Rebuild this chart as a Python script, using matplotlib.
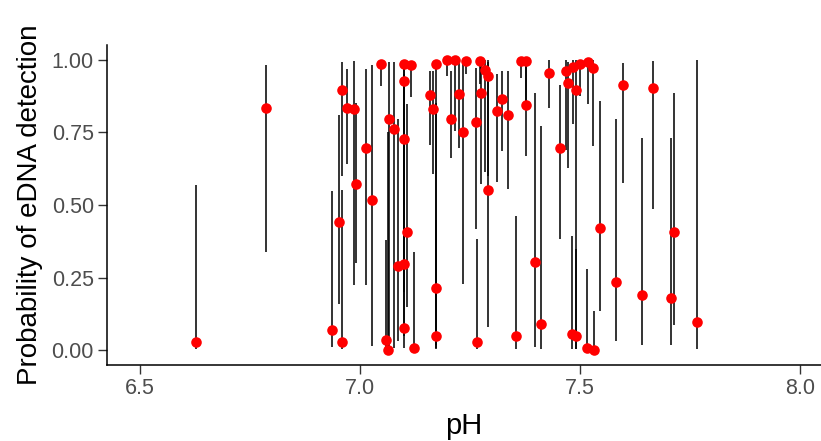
import matplotlib
matplotlib.use("Agg")
import matplotlib.pyplot as plt

# values
ph = [6.627, 6.786, 6.936, 6.953, 6.959, 6.959, 6.971, 6.986, 6.990, 7.013,
      7.027, 7.049, 7.059, 7.063, 7.066, 7.078, 7.087, 7.100, 7.100, 7.100,
      7.100, 7.100, 7.108, 7.117, 7.123, 7.159, 7.167, 7.172, 7.172, 7.172,
      7.197, 7.208, 7.216, 7.226, 7.235, 7.242, 7.263, 7.267, 7.273, 7.275,
      7.284, 7.292, 7.292, 7.312, 7.322, 7.336, 7.355, 7.365, 7.378, 7.377,
      7.399, 7.412, 7.430, 7.454, 7.468, 7.473, 7.482, 7.485, 7.491, 7.491,
      7.501, 7.516, 7.518, 7.530, 7.533, 7.546, 7.581, 7.598, 7.640, 7.667,
      7.708, 7.714, 7.767]
prob = [0.029, 0.834, 0.071, 0.442, 0.897, 0.029, 0.834, 0.829, 0.573, 0.697,
        0.518, 0.986, 0.037, 0.000, 0.794, 0.760, 0.291, 0.986, 0.926, 0.726,
        0.297, 0.078, 0.408, 0.980, 0.008, 0.877, 0.829, 0.986, 0.214, 0.051,
        1.000, 0.794, 1.000, 0.880, 0.752, 0.994, 0.787, 0.029, 0.994, 0.884,
        0.965, 0.945, 0.553, 0.822, 0.863, 0.808, 0.050, 0.994, 0.994, 0.843,
        0.304, 0.091, 0.953, 0.697, 0.959, 0.918, 0.058, 0.973, 0.897, 0.051,
        0.985, 0.010, 0.993, 0.972, 0.003, 0.421, 0.235, 0.911, 0.189, 0.903,
        0.181, 0.408, 0.097]
lower = [0.005, 0.337, 0.013, 0.160, 0.600, 0.005, 0.640, 0.225, 0.300, 0.225,
         0.017, 0.908, 0.000, 0.000, 0.010, 0.010, 0.033, 0.600, 0.500, 0.200,
         0.050, 0.010, 0.150, 0.870, 0.000, 0.708, 0.605, 0.010, 0.020, 0.005,
         0.943, 0.663, 0.754, 0.697, 0.229, 0.950, 0.417, 0.006, 0.917, 0.571,
         0.613, 0.600, 0.080, 0.578, 0.686, 0.554, 0.006, 0.937, 0.850, 0.669,
         0.013, 0.006, 0.834, 0.383, 0.690, 0.626, 0.006, 0.777, 0.006, 0.006,
         0.874, 0.000, 0.846, 0.703, 0.000, 0.137, 0.034, 0.577, 0.020, 0.486,
         0.020, 0.088, 0.006]
upper = [0.569, 0.983, 0.548, 0.810, 0.990, 0.550, 0.968, 0.994, 0.850, 0.968,
         0.982, 1.000, 0.380, 0.750, 0.990, 0.990, 0.794, 1.000, 0.990, 0.950,
         0.800, 0.600, 0.846, 0.995, 0.340, 0.960, 0.960, 1.000, 0.850, 0.450,
         1.000, 0.960, 1.000, 0.990, 1.000, 1.000, 0.970, 0.383, 1.000, 0.983,
         1.000, 0.990, 1.000, 0.949, 0.960, 0.960, 0.463, 1.000, 1.000, 0.994,
         0.886, 0.771, 0.997, 0.914, 1.000, 0.990, 0.394, 1.000, 1.000, 0.350,
         1.000, 0.280, 1.000, 1.000, 0.137, 0.857, 0.794, 0.989, 0.731, 0.994,
         0.731, 0.886, 1.000]

yticks = [0.0, 0.25, 0.5, 0.75, 1.0]
ylabels = ["0.00", "0.25", "0.50", "0.75", "1.00"]
xticks = [6.5, 7.0, 7.5, 8.0]
xlabels = ["6.5", "7.0", "7.5", "8.0"]

plt.rcParams['font.family'] = ['Liberation Sans', 'DejaVu Sans']

fig = plt.figure(figsize=(8.21, 4.41), dpi=100)
ax = fig.add_axes([0.1303, 0.1723, 0.8697, 0.7256])

ax.vlines(ph, lower, upper, colors="black", alpha=0.8, linewidth=1.4, zorder=2)
ax.scatter(ph, prob, c="red", s=58, linewidths=0, zorder=3)

ax.set_xlim(6.425, 8.048)
ax.set_ylim(-0.05, 1.05)
ax.set_xticks(xticks)
ax.set_xticklabels(xlabels)
ax.set_yticks(yticks)
ax.set_yticklabels(ylabels)

for side in ["top", "right"]:
    ax.spines[side].set_visible(False)
for side in ["left", "bottom"]:
    ax.spines[side].set_color("black")
    ax.spines[side].set_linewidth(1.1)

ax.tick_params(axis="both", length=6.5, width=1.0, color="#333333",
               labelcolor="#4D4D4D", labelsize=15.5, pad=3)

ax.set_xlabel("pH", fontsize=21, labelpad=9)
ax.set_ylabel("Probability of eDNA detection", fontsize=20, labelpad=6)

fig.savefig("out.png", dpi=100)
